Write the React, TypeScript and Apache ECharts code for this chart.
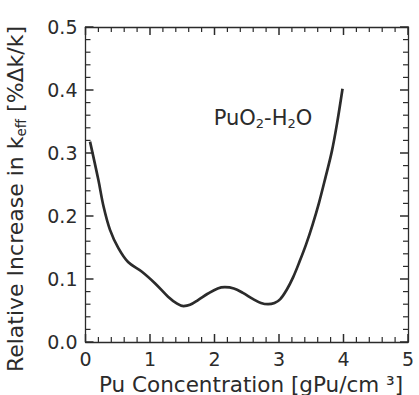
import React, { useEffect, useRef } from "react";
import * as echarts from "echarts";

const concentration = [0.07, 0.2, 0.28, 0.38, 0.51, 0.66, 0.87, 1.08, 1.28, 1.42, 1.52, 1.62, 1.75, 1.9, 2.05, 2.16, 2.3, 2.44, 2.6, 2.72, 2.83, 2.93, 3.02, 3.12, 3.22, 3.32, 3.42, 3.52, 3.62, 3.72, 3.82, 3.9, 3.985];
const increase = [0.318, 0.257, 0.215, 0.178, 0.149, 0.127, 0.112, 0.093, 0.072, 0.061, 0.057, 0.059, 0.067, 0.077, 0.085, 0.087, 0.085, 0.078, 0.068, 0.062, 0.06, 0.062, 0.068, 0.083, 0.103, 0.128, 0.155, 0.186, 0.221, 0.261, 0.303, 0.347, 0.402];

const xMajorTicks = [0, 1, 2, 3, 4, 5];
const xMinorTicks = [0.2, 0.4, 0.6, 0.8, 1.2, 1.4, 1.6, 1.8, 2.2, 2.4, 2.6, 2.8, 3.2, 3.4, 3.6, 3.8, 4.2, 4.4, 4.6, 4.8];
const yMajorTicks = [0, 0.1, 0.2, 0.3, 0.4, 0.5];
const yMinorTicks = [0.02, 0.04, 0.06, 0.08, 0.12, 0.14, 0.16, 0.18, 0.22, 0.24, 0.26, 0.28, 0.32, 0.34, 0.36, 0.38, 0.42, 0.44, 0.46, 0.48];

const xTitle = "Pu Concentration [gPu/cm ³]";

const FONT = "'DejaVu Sans', 'Liberation Sans', Arial, sans-serif";
const INK = "#2b2b2b";
const X_MIN = 0, X_MAX = 5, Y_MIN = 0, Y_MAX = 0.5;

function axisStyle() {
  return {
    axisLine: { show: true, onZero: false, lineStyle: { color: INK, width: 1.3 } },
    axisTick: { show: false },
    minorTick: { show: false },
    splitLine: { show: false },
  };
}

export default function App() {
  const ref = useRef<HTMLDivElement>(null);
  useEffect(() => {
    if (!ref.current) return;
    const chart = echarts.init(ref.current, undefined, { renderer: "svg" });
    const data = concentration.map((x, i) => [x, increase[i]]);
    const xTickData = [
      ...xMajorTicks.map((v) => [v, 1]),
      ...xMinorTicks.map((v) => [v, 0]),
    ];
    const yTickData = [
      ...yMajorTicks.map((v) => [v, 1]),
      ...yMinorTicks.map((v) => [v, 0]),
    ];
    const tickStyle = (major: number) => ({ stroke: INK, lineWidth: major ? 1.5 : 1.2 });
    chart.setOption({
      animation: false,
      grid: { left: 85.5, right: 11, top: 27, bottom: 53 },
      xAxis: [
        {
          type: "value", min: X_MIN, max: X_MAX, interval: 1, position: "bottom",
          ...axisStyle(),
          axisLabel: { color: INK, fontSize: 19, fontFamily: FONT, margin: 7 },
        },
        {
          type: "value", min: X_MIN, max: X_MAX, interval: 1, position: "top",
          ...axisStyle(),
          axisLabel: { show: false },
        },
      ],
      yAxis: [
        {
          type: "value", min: Y_MIN, max: Y_MAX, interval: 0.1, position: "left",
          ...axisStyle(),
          axisLabel: {
            color: INK, fontSize: 19, fontFamily: FONT, margin: 8,
            formatter: (v: number) => v.toFixed(1),
          },
        },
        {
          type: "value", min: Y_MIN, max: Y_MAX, interval: 0.1, position: "right",
          ...axisStyle(),
          axisLabel: { show: false },
        },
      ],
      series: [
        {
          type: "line",
          data,
          smooth: 0.35,
          symbol: "none",
          lineStyle: { color: INK, width: 2.7 },
          z: 3,
        },
        {
          type: "custom",
          data: xTickData,
          clip: false,
          silent: true,
          z: 4,
          renderItem: (_p: any, api: any) => {
            const v = api.value(0);
            const major = api.value(1);
            const len = major ? 8 : 5;
            const b = api.coord([v, Y_MIN]);
            const t = api.coord([v, Y_MAX]);
            return {
              type: "group",
              children: [
                { type: "line", shape: { x1: b[0], y1: b[1], x2: b[0], y2: b[1] - len }, style: tickStyle(major) },
                { type: "line", shape: { x1: t[0], y1: t[1], x2: t[0], y2: t[1] + len }, style: tickStyle(major) },
              ],
            };
          },
        },
        {
          type: "custom",
          data: yTickData,
          clip: false,
          silent: true,
          z: 4,
          encode: { x: 1, y: 0 },
          renderItem: (_p: any, api: any) => {
            const v = api.value(0);
            const major = api.value(1);
            const len = major ? 8 : 5;
            const l = api.coord([X_MIN, v]);
            const r = api.coord([X_MAX, v]);
            return {
              type: "group",
              children: [
                { type: "line", shape: { x1: l[0], y1: l[1], x2: l[0] + len, y2: l[1] }, style: tickStyle(major) },
                { type: "line", shape: { x1: r[0], y1: r[1], x2: r[0] - len, y2: r[1] }, style: tickStyle(major) },
              ],
            };
          },
        },
      ],
      graphic: [
        {
          type: "text",
          x: 251, y: 384,
          style: {
            text: xTitle, fill: INK, font: `21.5px ${FONT}`,
            align: "center", verticalAlign: "middle",
          },
        },
        {
          type: "text",
          x: 15, y: 199,
          rotation: Math.PI / 2,
          style: {
            text: "{a|Relative Increase in k}{s|eff}{a| [%Δk/k]}",
            align: "center", verticalAlign: "middle",
            rich: {
              a: { fontSize: 22, fontFamily: FONT, fill: INK, color: INK, lineHeight: 26 },
              s: { fontSize: 13.5, fontFamily: FONT, fill: INK, color: INK, lineHeight: 13, verticalAlign: "bottom" },
            },
          },
        },
        {
          type: "text",
          x: 263, y: 118,
          style: {
            text: "{a|PuO}{s|2}{a|-H}{s|2}{a|O}",
            align: "center", verticalAlign: "middle",
            rich: {
              a: { fontSize: 21, fontFamily: FONT, fill: INK, color: INK, lineHeight: 24 },
              s: { fontSize: 13, fontFamily: FONT, fill: INK, color: INK, lineHeight: 13, verticalAlign: "bottom" },
            },
          },
        },
      ],
    });
    return () => chart.dispose();
  }, []);
  return (
    <div
      ref={ref}
      style={{ position: "fixed", left: 0, top: 0, width: 419, height: 395, background: "#fff" }}
    />
  );
}
